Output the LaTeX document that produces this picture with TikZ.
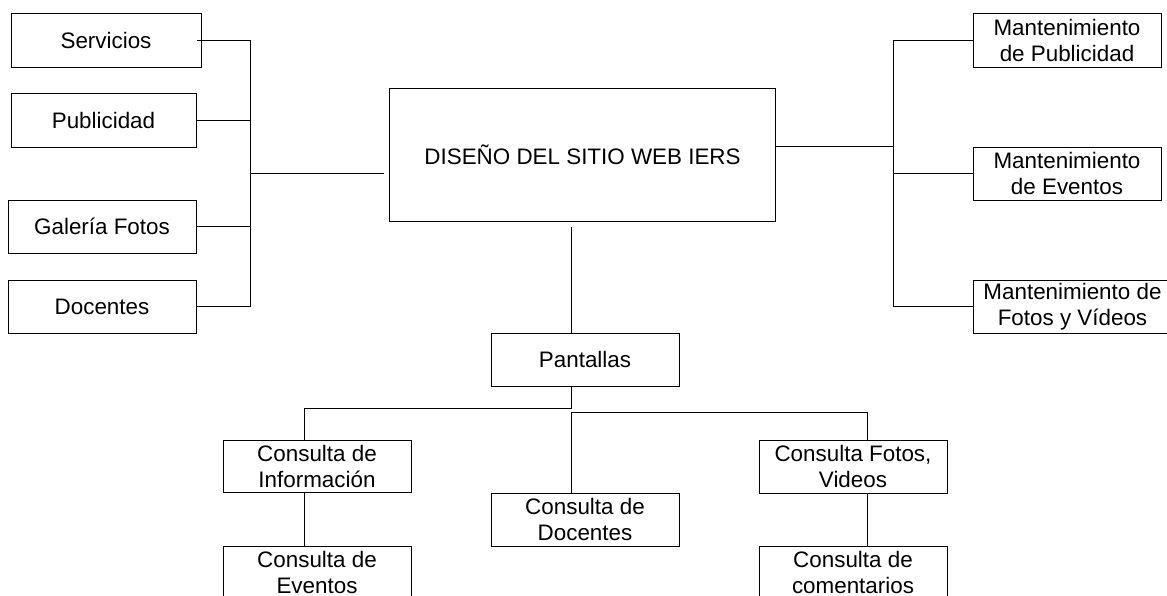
\documentclass[tikz,border=0pt]{standalone}
\usepackage{fontspec}
\setmainfont{Liberation Sans}
\begin{document}
\tikzset{
  box/.style={draw, line width=1pt, inner sep=0pt, outer sep=0pt, align=center,
    font=\fontsize{22.4pt}{26pt}\selectfont},
  conn/.style={line width=1pt}
}
\begin{tikzpicture}[x=1pt,y=-1pt]
\clip (0,0) rectangle (1167,595);
% left column
\node[box, minimum width=190pt, minimum height=54pt] (serv) at (106,40) {Servicios};
\node[box, minimum width=185pt, minimum height=54pt] (publ) at (103.5,120) {Publicidad};
\node[box, minimum width=188pt, minimum height=53pt] (gal) at (102,226.5) {Galería Fotos};
\node[box, minimum width=188pt, minimum height=53pt] (doc) at (102,306.5) {Docentes};
% main
\node[box, minimum width=386pt, minimum height=133pt] (main) at (582.5,155) {DISEÑO DEL SITIO WEB IERS};
% right column
\node[box, minimum width=188pt, minimum height=54pt] (mpub) at (1067,40) {Mantenimiento\\de Publicidad};
\node[box, minimum width=188pt, minimum height=53pt] (mev) at (1067,173.5) {Mantenimiento\\de Eventos};
\node[box, minimum width=199pt, minimum height=53pt] (mfot) at (1072.5,306.5) {Mantenimiento de\\Fotos y Vídeos};
% lower part
\node[box, minimum width=188pt, minimum height=53pt] (pant) at (585,359.5) {Pantallas};
\node[box, minimum width=188pt, minimum height=52pt] (cinf) at (317,466) {Consulta de\\Información};
\node[box, minimum width=188pt, minimum height=53pt] (cev) at (317,572.5) {Consulta de\\Eventos};
\node[box, minimum width=188pt, minimum height=53pt] (cdoc) at (585,519.5) {Consulta de\\Docentes};
\node[box, minimum width=188pt, minimum height=53pt] (cfot) at (853,466.5) {Consulta Fotos,\\Videos};
\node[box, minimum width=188pt, minimum height=53pt] (ccom) at (853,572.5) {Consulta de\\comentarios};
% helper coordinates
\coordinate (lbus) at (250,173.3);
\coordinate (lend) at (384,173.3);
\coordinate (rbus) at (893,146.7);
\coordinate (vtop) at (571.5,227);
\coordinate (lbr) at (304,408);
\coordinate (rbr) at (867,412);
% left connectors
\draw[conn] ([xshift=-4pt]serv.east) -| (doc.east -| lbus) -- (doc.east);
\draw[conn] (publ.east) -- (publ.east -| lbus);
\draw[conn] (gal.east) -- (gal.east -| lbus);
\draw[conn] (lbus) -- (lend);
% right connectors
\draw[conn] (main.east |- rbus) -- (rbus);
\draw[conn] (mpub.west) -| (mfot.west -| rbus) -- (mfot.west);
\draw[conn] (mev.west) -- (mev.west -| rbus);
% center connectors
\draw[conn] (vtop) -- (pant.north -| vtop);
\draw[conn] (pant.south -| vtop) -- (vtop |- lbr) -- (lbr) -- (lbr |- cinf.north);
\draw[conn] (vtop |- rbr) -- (rbr) -- (rbr |- cfot.north);
\draw[conn] (vtop |- rbr) -- (vtop |- cdoc.north);
\draw[conn] (cinf.south -| lbr) -- (cev.north -| lbr);
\draw[conn] (cfot.south -| rbr) -- (ccom.north -| rbr);
\end{tikzpicture}
\end{document}
